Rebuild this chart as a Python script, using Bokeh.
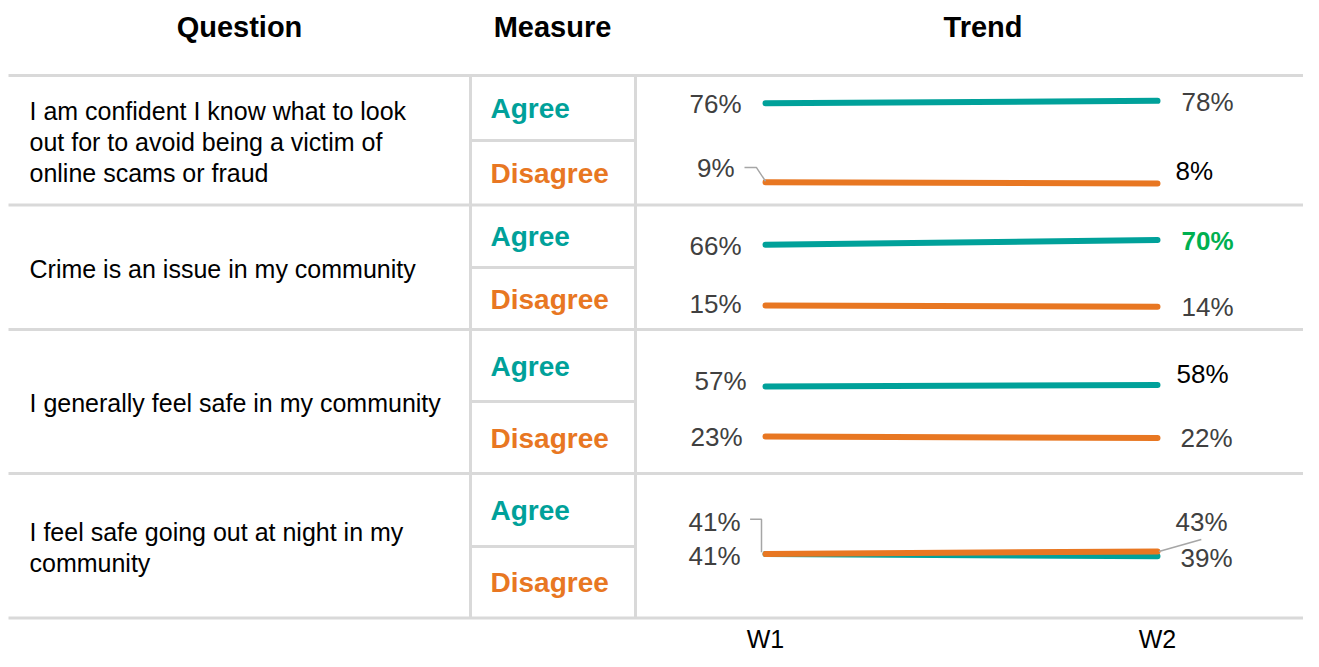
from bokeh.plotting import figure
from bokeh.models import Range1d, ColumnDataSource
from bokeh.core.properties import value
from bokeh.embed import file_html
from bokeh.resources import INLINE

# ---------------- data ----------------
headers = ["Question", "Measure", "Trend"]
questions = [
    "I am confident I know what to look\nout for to avoid being a victim of\nonline scams or fraud",
    "Crime is an issue in my community",
    "I generally feel safe in my community",
    "I feel safe going out at night in my\ncommunity",
]
measures = ["Agree", "Disagree"]
waves = ["W1", "W2"]
agree_w1 = [76, 66, 57, 41]
agree_w2 = [78, 70, 58, 39]
disagree_w1 = [9, 15, 23, 41]
disagree_w2 = [8, 14, 22, 43]

# ---------------- layout / style ----------------
FONT = value("Liberation Sans")
TEAL = "#00A19A"
ORANGE = "#E87722"
GRID = "#D9D9D9"
LABEL = "#404040"
GREEN = "#00B050"

W, H = 1303, 651
X0, Y0 = 0, 0                       # figure coordinate origin (px)
row_edges = [75, 204.5, 329, 473, 617.5]
sub_edges = [140, 267, 401, 546]
col_x = [470, 635]
line_left = 8
header_x = [239, 552, 982.5]
wave_px = (765, 1157)
wave_label_y = 638
# per-row vertical mapping: page_y = a - k * value
row_scale = [(192.4, 1.18), (322.8, 1.19), (469.8, 1.47), (602.6, 1.2)]

# label offsets in px (agree W1, agree W2, disagree W1, disagree W2)
label_off = [
    [(-24, 1), (24, 1), (-31, -14), (18, -12.5)],
    [(-24, 1), (24, 0.5), (-24, -1), (24, 0)],
    [(-19, -6), (19, -11), (-23, 1), (23, 0)],
    [(-25, 2.5), (23, 1.3), (-25, -31.6), (18, -29.3)],
]
label_color = [
    [LABEL, LABEL, LABEL, "#000000"],
    [LABEL, GREEN, LABEL, LABEL],
    [LABEL, "#000000", LABEL, LABEL],
    [LABEL, LABEL, LABEL, LABEL],
]
label_style = [
    ["normal"] * 4,
    ["normal", "bold", "normal", "normal"],
    ["normal"] * 4,
    ["normal"] * 4,
]
# leader lines: (row, series index 0=agree 1=disagree, wave index, px offsets)
leaders = [
    (0, 1, 0, [(-21, -14.7), (-9, -14.7), (0, -1)]),
    (3, 1, 0, [(-15.4, -34.6), (-4, -34.6), (-4, -1.6)]),
    (3, 1, 1, [(1.4, 0), (43.8, -12)]),
]

p = figure(width=W, height=H, output_backend="svg", toolbar_location=None,
           x_range=Range1d(X0, X0 + W), y_range=Range1d(Y0 + H, Y0),
           x_axis_type=None, y_axis_type=None, min_border=0)
p.outline_line_color = None
p.background_fill_color = "white"
p.border_fill_color = "white"

px_per_wave = wave_px[1] - wave_px[0]
p.extra_x_ranges = {"wave": Range1d(start=(X0 - wave_px[0]) / px_per_wave,
                                    end=(X0 + W - wave_px[0]) / px_per_wave)}
p.extra_y_ranges = {
    f"r{i}": Range1d(start=(a - (Y0 + H)) / k, end=(a - Y0) / k)
    for i, (a, k) in enumerate(row_scale)
}

# ---------------- table structure ----------------
p.segment(x0=[line_left] * len(row_edges), x1=[X0 + W] * len(row_edges),
          y0=row_edges, y1=row_edges, line_color=GRID, line_width=3)
p.segment(x0=col_x, x1=col_x, y0=[row_edges[0]] * 2, y1=[row_edges[-1]] * 2,
          line_color=GRID, line_width=3)
p.segment(x0=[col_x[0]] * 4, x1=[col_x[1]] * 4, y0=sub_edges, y1=sub_edges,
          line_color=GRID, line_width=3)

# headers
p.text(x=header_x, y=[26.5] * 3, text=headers, text_font=FONT, text_font_size="29px",
       text_font_style="bold", text_align="center", text_baseline="middle",
       text_color="#000000")

# questions
q_y = [(row_edges[i] + row_edges[i + 1]) / 2 + 1.5 for i in range(4)]
p.text(x=[29] * 4, y=q_y, text=questions, text_font=FONT, text_font_size="25px",
       text_align="left", text_baseline="middle", text_line_height=1.1,
       text_color="#000000")

# measures
m_x, m_y, m_t, m_c = [], [], [], []
for i in range(4):
    tops = [row_edges[i], sub_edges[i]]
    bots = [sub_edges[i], row_edges[i + 1]]
    for j in range(2):
        m_x.append(490)
        m_y.append((tops[j] + bots[j]) / 2 + 0.5)
        m_t.append(measures[j])
        m_c.append(TEAL if j == 0 else ORANGE)
p.text(x=m_x, y=m_y, text=m_t, text_color=m_c, text_font=FONT, text_font_size="28px",
       text_font_style="bold", text_align="left", text_baseline="middle")

# ---------------- trend lines ----------------
series = [(agree_w1, agree_w2, TEAL), (disagree_w1, disagree_w2, ORANGE)]
for i in range(4):
    a, k = row_scale[i]
    for s1, s2, col in series:
        p.line(x=[0, 1], y=[s1[i], s2[i]], x_range_name="wave", y_range_name=f"r{i}",
               line_color=col, line_width=6, line_cap="round")
    vals = [agree_w1[i], agree_w2[i], disagree_w1[i], disagree_w2[i]]
    xs = [0, 1, 0, 1]
    src = ColumnDataSource(dict(
        x=xs, y=vals, text=[f"{v}%" for v in vals],
        xo=[o[0] for o in label_off[i]], yo=[o[1] for o in label_off[i]],
        align=["right" if x == 0 else "left" for x in xs],
        color=label_color[i], style=label_style[i],
    ))
    p.text(x="x", y="y", text="text", x_offset="xo", y_offset="yo",
           text_align="align", text_color="color", text_font_style="style",
           text_font=FONT, text_font_size="26px", text_baseline="middle",
           source=src, x_range_name="wave", y_range_name=f"r{i}")

# leader lines
for row, s, wv, pts in leaders:
    a, k = row_scale[row]
    base_y = series[s][wv][row]
    lx = [wv + dx / px_per_wave for dx, dy in pts]
    ly = [base_y - dy / k for dx, dy in pts]
    p.line(x=lx, y=ly, x_range_name="wave", y_range_name=f"r{row}",
           line_color="#A6A6A6", line_width=1.5)

# wave labels
p.text(x=[0, 1], y=[wave_label_y] * 2, text=waves, x_range_name="wave", text_font=FONT,
       text_font_size="25px", text_align="center", text_baseline="middle",
       text_color="#000000")

open("out.html", "w").write(file_html(p, INLINE))
